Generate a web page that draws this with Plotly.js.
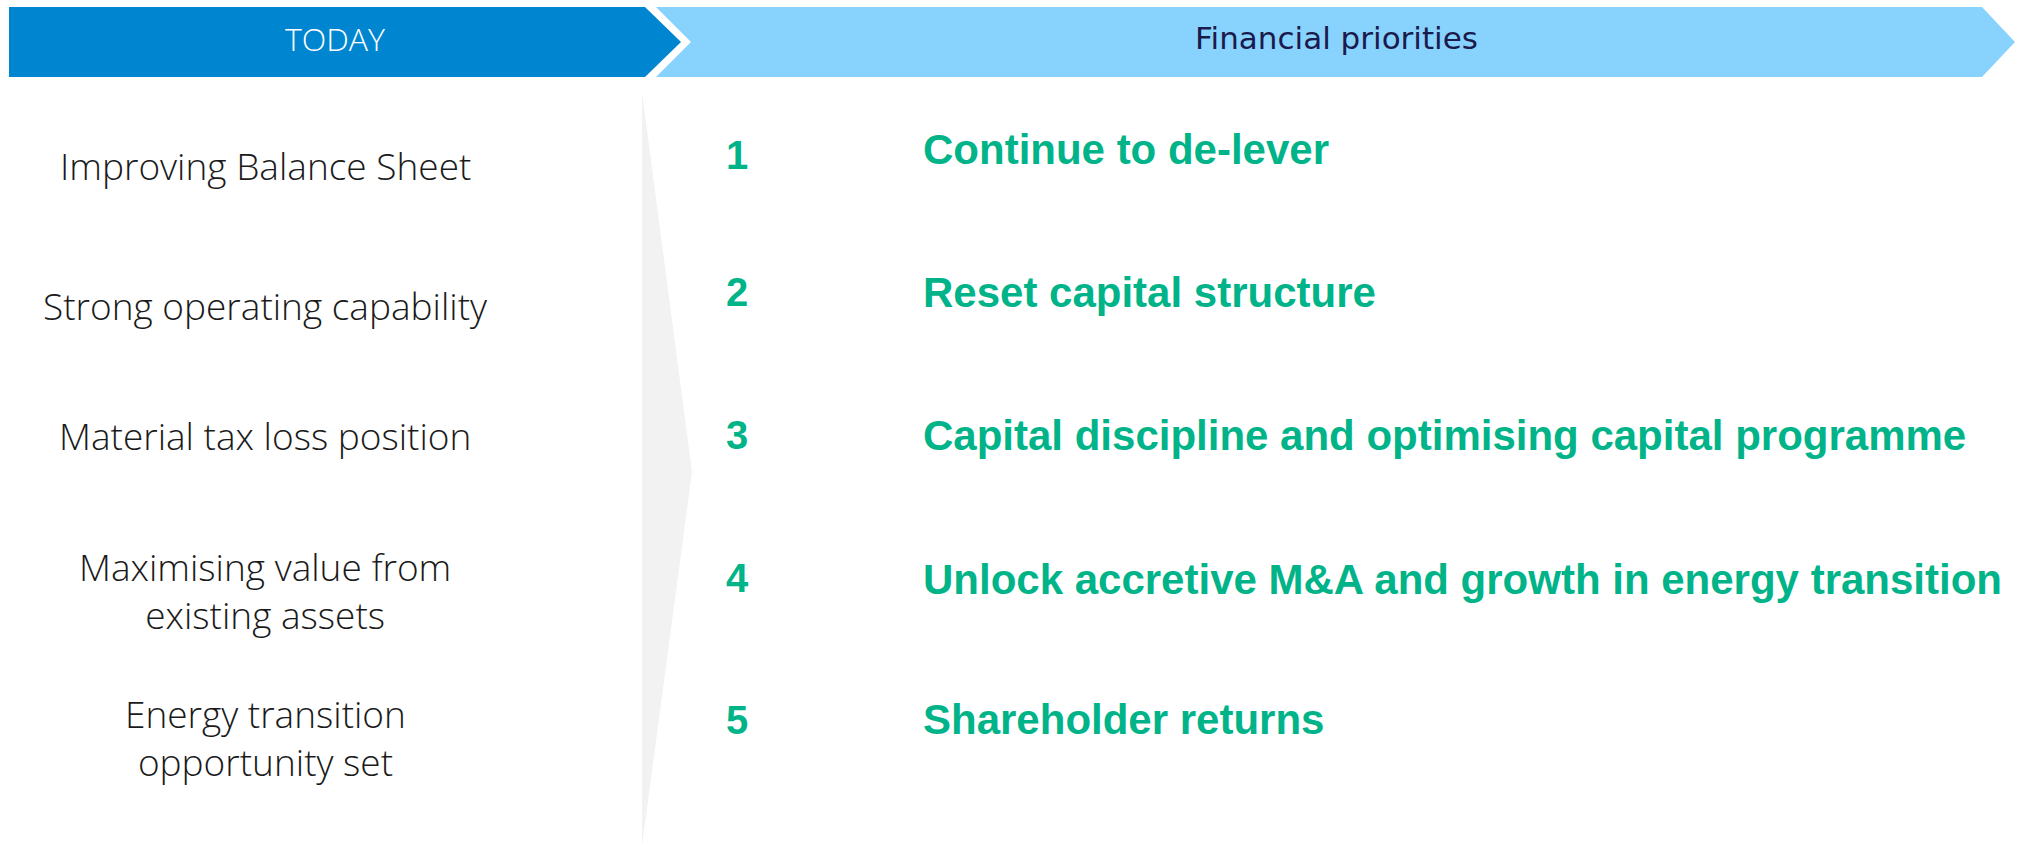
<!DOCTYPE html>
<html>
<head>
<meta charset="utf-8">
<script src="https://cdn.plot.ly/plotly-3.0.1.min.js"></script>
<style>html,body{margin:0;padding:0;background:#fff;}#chart{width:2024px;height:846px;}</style>
</head>
<body>
<div id="chart"></div>
<script>
// ---- data ----
const headerLeft = "TODAY";
const headerRight = "Financial priorities";
const todayItems = [
  "Improving Balance Sheet",
  "Strong operating capability",
  "Material tax loss position",
  "Maximising value from<br>existing assets",
  "Energy transition<br>opportunity set"
];
const priorityNumbers = ["1", "2", "3", "4", "5"];
const priorityTexts = [
  "Continue to de-lever",
  "Reset capital structure",
  "Capital discipline and optimising capital programme",
  "Unlock accretive M&A and growth in energy transition",
  "Shareholder returns"
];

// ---- layout (pixel-space axes) ----
const W = 2024, H = 846;
const leftRowY = [165, 305, 435, 590, 737];
const rightRowY = [149, 292, 435, 579, 719];
const numY = [155, 292, 435, 578, 720];

const shapes = [
  {type:"path", xref:"x", yref:"y", path:"M 9 7 L 645 7 L 681 42 L 645 77 L 9 77 Z",
   fillcolor:"#0086D0", line:{width:0}, layer:"below"},
  {type:"path", xref:"x", yref:"y", path:"M 656 7 L 1982 7 L 2015 42 L 1982 77 L 656 77 L 691 42 Z",
   fillcolor:"#88D3FE", line:{width:0}, layer:"below"},
  {type:"path", xref:"x", yref:"y", path:"M 642 92 L 692 472 L 642 846 Z",
   fillcolor:"#F2F2F2", line:{width:0}, layer:"below"}
];

const annotations = [];
annotations.push({x:335, y:38, xref:"x", yref:"y", text:headerLeft, showarrow:false,
  font:{family:"Open Sans", size:32, weight:300, color:"#ffffff"}, xanchor:"center", yanchor:"middle"});
annotations.push({x:1336, y:38, xref:"x", yref:"y", text:headerRight, showarrow:false,
  font:{family:"DejaVu Sans", size:31, color:"#1B1A4C"}, xanchor:"center", yanchor:"middle"});

todayItems.forEach((t, i) => {
  annotations.push({x:265, y:leftRowY[i], xref:"x", yref:"y", text:t, showarrow:false,
    font:{family:"Open Sans", size:37, weight:300, color:"#1a1a1a"}, xanchor:"center", yanchor:"middle", align:"center"});
});
priorityNumbers.forEach((n, i) => {
  annotations.push({x:737, y:numY[i], xref:"x", yref:"y", text:"<b>"+n+"</b>", showarrow:false,
    font:{family:"Liberation Sans", size:40, color:"#00B388"}, xanchor:"center", yanchor:"middle"});
});
priorityTexts.forEach((t, i) => {
  annotations.push({x:921, y:rightRowY[i], xref:"x", yref:"y", text:"<b>"+t+"</b>", showarrow:false,
    font:{family:"Liberation Sans", size:42, color:"#00B388"}, xanchor:"left", yanchor:"middle"});
});

const layout = {
  width: W, height: H,
  margin:{l:0, r:0, t:0, b:0},
  paper_bgcolor:"#ffffff", plot_bgcolor:"#ffffff",
  xaxis:{range:[0, W], visible:false, fixedrange:true},
  yaxis:{range:[H, 0], visible:false, fixedrange:true},
  showlegend:false,
  shapes: shapes,
  annotations: annotations
};

Plotly.newPlot("chart", [{x:[], y:[], type:"scatter", mode:"markers", hoverinfo:"skip"}], layout,
  {displayModeBar:false, staticPlot:true});
</script>
</body>
</html>
